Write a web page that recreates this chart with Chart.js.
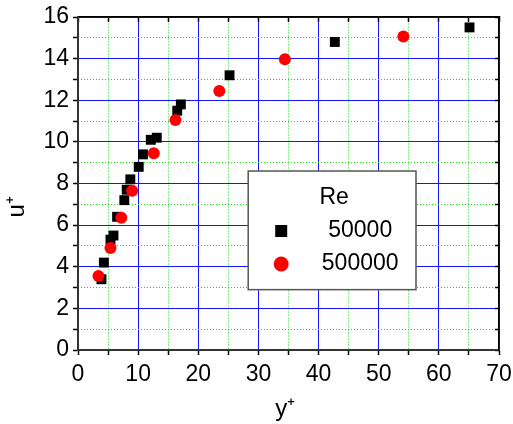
<!DOCTYPE html>
<html>
<head>
<meta charset="utf-8">
<script src="https://cdn.jsdelivr.net/npm/chart.js@4/dist/chart.umd.min.js"></script>
<style>
  body { margin: 0; background: #fff; }
</style>
</head>
<body>
<canvas id="c" width="513" height="424"></canvas>
<script>
// values: y+ (x axis) and u+ (y axis)
const seriesNames = ['50000', '500000'];
const yPlus50k  = [3.9, 4.3, 5.4, 5.9, 6.5, 7.7, 8.1, 8.7, 10.1, 10.8, 12.1, 13.1, 16.5, 17.1, 25.2, 42.7, 65.1];
const uPlus50k  = [3.4, 4.2, 5.3, 5.5, 6.4, 7.2, 7.7, 8.2, 8.8, 9.4, 10.1, 10.2, 11.5, 11.8, 13.2, 14.8, 15.5];
const yPlus500k = [3.4, 5.4, 7.2, 9.0, 12.6, 16.2, 23.5, 34.4, 54.1];
const uPlus500k = [3.55, 4.9, 6.35, 7.65, 9.45, 11.05, 12.45, 13.97, 15.06];
const xTickLabels = [0, 10, 20, 30, 40, 50, 60, 70];
const yTickLabels = [0, 2, 4, 6, 8, 10, 12, 14, 16];

const BLUE = '#1414ff';
const GREEN = '#10e010';
const FONT = 'Liberation Sans, Arial, sans-serif';

function pts(xs, ys) {
  return xs.map((v, i) => ({ x: v, y: ys[i] }));
}

const isMajorX = v => xTickLabels.includes(v);
const isMajorY = v => yTickLabels.includes(v);

// fixed box sizes so the plot area lands where the original one is
function fixBox(size, key) {
  return s => {
    s[key] = size;
    s.paddingLeft = s.paddingRight = s.paddingTop = s.paddingBottom = 0;
  };
}

// boxed legend with title, drawn inside the plot
const boxLegend = {
  id: 'boxLegend',
  afterDatasetsDraw(chart) {
    const { ctx, scales: { x, y } } = chart;
    const l = x.getPixelForValue(28.3), r = x.getPixelForValue(56.2);
    const t = y.getPixelForValue(8.6), b = y.getPixelForValue(2.9);
    ctx.save();
    ctx.fillStyle = '#fff';
    ctx.fillRect(l, t, r - l, b - t);
    ctx.strokeStyle = '#555';
    ctx.lineWidth = 1.5;
    ctx.strokeRect(l, t, r - l, b - t);
    ctx.fillStyle = '#000';
    ctx.font = '23px ' + FONT;
    ctx.textAlign = 'center';
    ctx.textBaseline = 'middle';
    ctx.fillText('Re', l + 86, t + 27);
    chart.data.datasets.forEach((ds, i) => {
      const ry = t + 60 + i * 33;
      const mx = l + 33;
      ctx.fillStyle = ds.backgroundColor;
      if (ds.pointStyle === 'rect') {
        ctx.fillRect(mx - 6, ry - 6, 12, 12);
      } else {
        ctx.beginPath();
        ctx.arc(mx, ry, 7.5, 0, Math.PI * 2);
        ctx.fill();
      }
      ctx.fillStyle = '#000';
      ctx.fillText(ds.label, l + 112, ry);
    });
    ctx.restore();
  }
};

new Chart(document.getElementById('c'), {
  type: 'scatter',
  data: {
    datasets: [
      {
        label: seriesNames[0],
        data: pts(yPlus50k, uPlus50k),
        pointStyle: 'rect',
        pointRadius: 7,
        pointHoverRadius: 7,
        backgroundColor: '#000',
        borderWidth: 0,
        order: 2
      },
      {
        label: seriesNames[1],
        data: pts(yPlus500k, uPlus500k),
        pointStyle: 'circle',
        pointRadius: 6,
        pointHoverRadius: 6,
        backgroundColor: '#ff0000',
        borderWidth: 0,
        order: 1
      }
    ]
  },
  options: {
    responsive: false,
    animation: false,
    layout: { padding: 0 },
    plugins: {
      legend: { display: false },
      tooltip: { enabled: false }
    },
    scales: {
      x: {
        type: 'linear',
        position: 'bottom',
        min: xTickLabels[0],
        max: xTickLabels[xTickLabels.length - 1],
        afterFit: fixBox(74, 'height'),
        ticks: {
          stepSize: 5,
          autoSkip: false,
          maxRotation: 0,
          padding: 6,
          color: '#000',
          font: { family: FONT, size: 23 },
          callback: v => isMajorX(v) ? v : ''
        },
        grid: {
          color: c => isMajorX(c.tick.value) ? BLUE : 'rgba(0,0,0,0)',
          lineWidth: 1,
          tickColor: '#000',
          tickLength: 5,
          tickWidth: 1.5
        },
        border: { color: '#333', width: 2 },
        title: {
          display: true,
          text: 'y\u207A\u00A0',
          color: '#000',
          font: { family: FONT, size: 24 },
          padding: { top: 0, bottom: 0 }
        }
      },
      x2: {
        type: 'linear',
        position: 'top',
        min: xTickLabels[0],
        max: xTickLabels[xTickLabels.length - 1],
        afterFit: fixBox(17, 'height'),
        ticks: { display: false, stepSize: 5 },
        grid: {
          color: c => isMajorX(c.tick.value) ? 'rgba(0,0,0,0)' : GREEN,
          lineWidth: 1,
          tickColor: '#000',
          tickLength: -5,
          tickWidth: 1.5,
          tickBorderDash: []
        },
        border: { color: '#000', width: 1.5, dash: [1, 2] }
      },
      y: {
        type: 'linear',
        position: 'left',
        min: yTickLabels[0],
        max: yTickLabels[yTickLabels.length - 1],
        afterFit: fixBox(78, 'width'),
        ticks: {
          stepSize: 1,
          autoSkip: false,
          padding: 4,
          color: '#000',
          font: { family: FONT, size: 23 },
          callback: v => isMajorY(v) ? v : ''
        },
        grid: {
          color: c => isMajorY(c.tick.value) ? BLUE : 'rgba(0,0,0,0)',
          lineWidth: 1,
          tickColor: '#000',
          tickLength: 5,
          tickWidth: 1.5
        },
        border: { color: '#333', width: 2 },
        title: {
          display: true,
          text: 'u\u207A\u00A0\u00A0\u00A0\u00A0\u00A0\u00A0\u00A0',
          color: '#000',
          font: { family: FONT, size: 24 },
          padding: { top: 3, bottom: 0 }
        }
      },
      y2: {
        type: 'linear',
        position: 'right',
        min: yTickLabels[0],
        max: yTickLabels[yTickLabels.length - 1],
        afterFit: fixBox(14, 'width'),
        ticks: { display: false, stepSize: 1 },
        grid: {
          color: c => isMajorY(c.tick.value) ? 'rgba(0,0,0,0)' : GREEN,
          lineWidth: 1,
          tickColor: '#000',
          tickLength: -4,
          tickWidth: 1.5,
          tickBorderDash: []
        },
        border: { color: '#000', width: 1.5, dash: [1, 2] }
      }
    }
  },
  plugins: [boxLegend]
});
</script>
</body>
</html>
